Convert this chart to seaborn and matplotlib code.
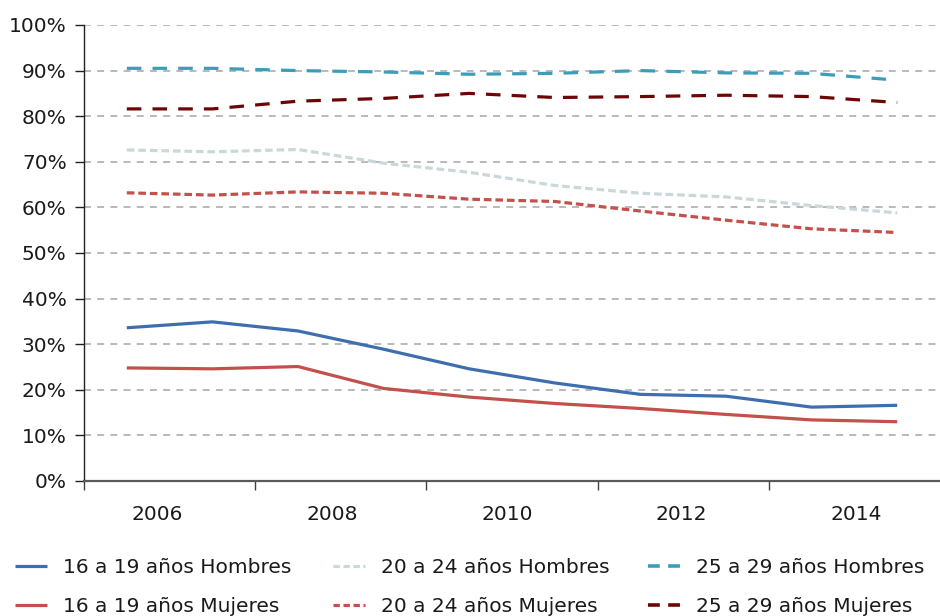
import numpy as np
import pandas as pd
import matplotlib
matplotlib.use("Agg")
import matplotlib.pyplot as plt
import seaborn as sns

# ---- data ----
years = [2006, 2007, 2008, 2009, 2010, 2011, 2012, 2013, 2014, 2015]
tick_years = [2006, 2008, 2010, 2012, 2014]
tick_labels = ["2006", "2008", "2010", "2012", "2014"]

h_16_19 = [33.6, 34.9, 32.9, 28.9, 24.6, 21.5, 19.0, 18.6, 16.2, 16.6]
m_16_19 = [24.8, 24.6, 25.1, 20.3, 18.4, 17.0, 15.9, 14.6, 13.4, 13.0]
h_20_24 = [72.6, 72.2, 72.7, 69.7, 67.7, 64.8, 63.1, 62.3, 60.4, 58.8]
m_20_24 = [63.2, 62.7, 63.4, 63.1, 61.8, 61.3, 59.2, 57.2, 55.3, 54.5]
h_25_29 = [90.5, 90.5, 90.0, 89.7, 89.2, 89.4, 90.0, 89.5, 89.4, 87.9]
m_25_29 = [81.6, 81.6, 83.3, 83.9, 85.0, 84.1, 84.3, 84.6, 84.3, 83.0]

series_names = [
    "16 a 19 años Hombres", "16 a 19 años Mujeres",
    "20 a 24 años Hombres", "20 a 24 años Mujeres",
    "25 a 29 años Hombres", "25 a 29 años Mujeres",
]
series_values = [h_16_19, m_16_19, h_20_24, m_20_24, h_25_29, m_25_29]

colors = {
    "16 a 19 años Hombres": "#3F6EAE",
    "16 a 19 años Mujeres": "#C4504C",
    "20 a 24 años Hombres": "#C9D9D9",
    "20 a 24 años Mujeres": "#C4504C",
    "25 a 29 años Hombres": "#3C9DB8",
    "25 a 29 años Mujeres": "#6E0505",
}
dashes = {
    "16 a 19 años Hombres": "",
    "16 a 19 años Mujeres": "",
    "20 a 24 años Hombres": (5.5, 2.8),
    "20 a 24 años Mujeres": (5.5, 2.8),
    "25 a 29 años Hombres": (10.5, 8.0),
    "25 a 29 años Mujeres": (10.5, 8.0),
}
widths = {
    "16 a 19 años Hombres": 2.3,
    "16 a 19 años Mujeres": 2.3,
    "20 a 24 años Hombres": 2.3,
    "20 a 24 años Mujeres": 2.3,
    "25 a 29 años Hombres": 2.6,
    "25 a 29 años Mujeres": 2.6,
}

rows = []
for name, vals in zip(series_names, series_values):
    for y, v in zip(years, vals):
        rows.append({"Año": y, "Valor": v, "Serie": name})
df = pd.DataFrame(rows)

sns.set_theme(style="white")
plt.rcParams["font.family"] = ["DejaVu Sans"]
plt.rcParams["lines.scale_dashes"] = False

fig = plt.figure(figsize=(9.4, 6.16), dpi=100)
W, H = 940, 616
ax = fig.add_axes([84 / W, 1 - 481 / H, (940 - 84) / W, (481 - 25) / H])

sns.lineplot(
    data=df, x="Año", y="Valor", hue="Serie", style="Serie",
    hue_order=series_names, style_order=series_names,
    palette=colors, dashes=dashes, linewidth=2.3, ax=ax, legend=True,
)
for ln in ax.get_lines():
    ln.set_solid_capstyle("butt")
    ln.set_dash_capstyle("butt")
    lab = ln.get_label()
    if lab in widths:
        ln.set_linewidth(widths[lab])

ax.set_xlim(years[0] - 0.5, years[-1] + 0.5)
ax.set_ylim(0, 100)
ax.set_yticks(np.arange(0, 101, 10))
ax.set_yticklabels([f"{v}%" for v in range(0, 101, 10)])
ax.yaxis.grid(True, color="#A6A6A6", linestyle=(0, (5.0, 4.5)), linewidth=1.1)
ax.set_axisbelow(True)

label_pos = np.array(tick_years) + np.linspace(0.36, 0.52, len(tick_years))
ax.set_xticks(label_pos)
ax.set_xticklabels(tick_labels)
ax.set_xticks(np.arange(years[0] - 0.5, years[-1], 2), minor=True)
ax.tick_params(axis="x", which="major", length=0, pad=17, labelsize=14.5, labelcolor="#1A1A1A")
ax.tick_params(axis="x", which="minor", length=6.5, width=1.0, color="#404040", direction="out", bottom=True)
ax.tick_params(axis="y", which="major", length=6.5, width=1.0, color="#202020", direction="out",
               left=True, pad=6, labelsize=14.5, labelcolor="#1A1A1A")

for s in ["top", "right"]:
    ax.spines[s].set_visible(False)
ax.spines["left"].set_color("#202020")
ax.spines["left"].set_linewidth(1.0)
ax.spines["bottom"].set_color("#595959")
ax.spines["bottom"].set_linewidth(1.6)
ax.set_xlabel("")
ax.set_ylabel("")

handles, labels = ax.get_legend_handles_labels()
hmap = dict(zip(labels, handles))
ax.get_legend().remove()

legend_dashes = {
    "20 a 24 años Hombres": (0, (4.6, 2.6)),
    "20 a 24 años Mujeres": (0, (4.6, 2.6)),
    "25 a 29 años Hombres": (0, (8.5, 6.0)),
    "25 a 29 años Mujeres": (0, (8.5, 6.0)),
}

col_x = [15, 333, 648]
for i, x in enumerate(col_x):
    names = series_names[2 * i: 2 * i + 2]
    leg = fig.legend(
        [hmap[n] for n in names], names, ncol=1, loc="upper left",
        bbox_to_anchor=(x / W, 1 - 558 / H), frameon=False, fontsize=14.5,
        handlelength=1.6, handletextpad=0.8, labelspacing=1.0,
        borderpad=0.0, borderaxespad=0.0,
    )
    for t in leg.get_texts():
        t.set_color("#1A1A1A")
    for hl, n in zip(leg.get_lines(), names):
        hl.set_dash_capstyle("butt")
        hl.set_solid_capstyle("butt")
        if n in legend_dashes:
            hl.set_linestyle(legend_dashes[n])

fig.savefig("out.png", dpi=100)
